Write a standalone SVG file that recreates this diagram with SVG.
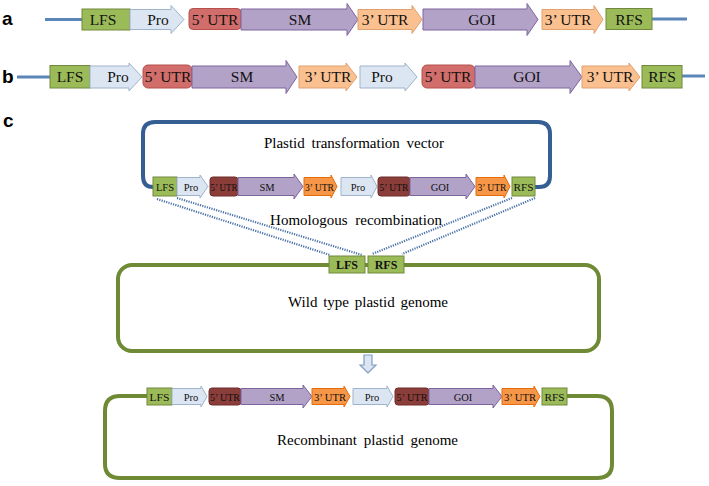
<svg xmlns="http://www.w3.org/2000/svg" width="709" height="486" viewBox="0 0 709 486">
<style>
.lbl{font-family:"Liberation Sans",Arial,sans-serif;font-weight:bold;font-size:19px;fill:#000}
.t{font-family:"Liberation Serif","Times New Roman",serif;fill:#111;text-anchor:middle}
.big{font-size:15.5px}
.sm{font-size:10.5px}
.cap{font-family:"Liberation Serif","Times New Roman",serif;font-size:15px;fill:#000;text-anchor:middle;word-spacing:3px}
.fs{fill:#9bbb59;stroke:#71893f;stroke-width:1}
.pro{fill:#dce6f2;stroke:#9fb3cc;stroke-width:1}
.u5{fill:#d16d6a;stroke:#b5504d;stroke-width:1}
.u5d{fill:#8b3d3a;stroke:#6e2d2b;stroke-width:1}
.sm1{fill:#b3a2c7;stroke:#7e649e;stroke-width:1}
.u3{fill:#fac08f;stroke:#e0a070;stroke-width:1}
.u3d{fill:#f79646;stroke:#e46c0a;stroke-width:1}
.bl{stroke:#5b87b8;stroke-width:3;fill:none}
.dot{stroke:#4a72a8;stroke-width:2.2;fill:none;stroke-dasharray:1.2 1.2}
</style>
<g id="labels">
<text class="lbl" x="2" y="25">a</text>
<text class="lbl" x="2" y="83">b</text>
<text class="lbl" x="3" y="127">c</text>
</g>
<g id="connectors">
<path class="bl" d="M45,19.5 H82 M652,19 H687"/>
<path class="bl" d="M17,77 H50 M682,76 H705"/>
<path d="M153,187 Q143,187 143,176 V134 Q143,122 155,122 H538 Q550,122 550,134 V176 Q550,187 539,187 H535" fill="none" stroke="#355f93" stroke-width="4"/>
<path class="dot" d="M157,199 L330,255 M177,198 L362,255 M512,198 L372,254 M535,198 L402,254"/>
<rect x="118" y="265" width="481" height="86" rx="14" fill="none" stroke="#6f8a35" stroke-width="4"/>
<path d="M147,396 H120 Q105,396 105,411 V464 Q105,478 120,478 H597 Q612,478 612,464 V411 Q612,396 597,396 H567" fill="none" stroke="#6f8a35" stroke-width="4"/>
<path d="M364,355 H372 V365 H376 L368,373 L360,365 H364 Z" fill="#dce6f2" stroke="#7f9cc4" stroke-width="1.2"/>
</g>
<g id="row-a">
<g id="a-lfs"><rect class="fs" x="82" y="9" width="48" height="21"/><text class="t big" x="103" y="25">LFS</text></g>
<g id="a-pro"><path class="pro" d="M130,9.5 H171 V5.5 L184,19.5 L171,33.5 V29.5 H130 Z"/><text class="t big" x="158" y="25">Pro</text></g>
<g id="a-5utr"><rect class="u5" x="189" y="8.5" width="52" height="21" rx="4"/><text class="t big" x="215" y="25">5’ UTR</text></g>
<g id="a-sm"><path class="sm1" d="M241,9 H347 V3.5 L358,19.5 L347,35.5 V30 H241 Z"/><text class="t big" x="300" y="25">SM</text></g>
<g id="a-3utr1"><path class="u3" d="M358,9.5 H412 V5.5 L422,19.5 L412,33.5 V29.5 H358 Z"/><text class="t big" x="385" y="25">3’ UTR</text></g>
<g id="a-goi"><path class="sm1" d="M423,9 H527 V3.5 L538,19.5 L527,35.5 V30 H423 Z"/><text class="t big" x="482" y="25">GOI</text></g>
<g id="a-3utr2"><path class="u3" d="M542,9.5 H594 V5.5 L603,19.5 L594,33.5 V29.5 H542 Z"/><text class="t big" x="568" y="25">3’ UTR</text></g>
<g id="a-rfs"><rect class="fs" x="606" y="8.5" width="46" height="21"/><text class="t big" x="629" y="25">RFS</text></g>
</g>
<g id="row-b">
<g id="b-lfs"><rect class="fs" x="50" y="65.5" width="40" height="22.5"/><text class="t big" x="70" y="82">LFS</text></g>
<g id="b-pro1"><path class="pro" d="M90,66 H129 V63 L142,77 L129,91 V88 H90 Z"/><text class="t big" x="118" y="82">Pro</text></g>
<g id="b-5utr1"><rect class="u5" x="143" y="65" width="49" height="23" rx="5"/><text class="t big" x="168" y="82">5’ UTR</text></g>
<g id="b-sm"><path class="sm1" d="M192,66 H286 V60.5 L297,77 L286,93.5 V88 H192 Z"/><text class="t big" x="242" y="82">SM</text></g>
<g id="b-3utr1"><path class="u3" d="M299,66 H346 V63 L357,77 L346,91 V88 H299 Z"/><text class="t big" x="328" y="82">3’ UTR</text></g>
<g id="b-pro2"><path class="pro" d="M360,66 H405 V63 L417,77 L405,91 V88 H360 Z"/><text class="t big" x="382" y="82">Pro</text></g>
<g id="b-5utr2"><rect class="u5" x="422" y="65" width="53" height="23" rx="5"/><text class="t big" x="448" y="82">5’ UTR</text></g>
<g id="b-goi"><path class="sm1" d="M475,66 H570 V60.5 L582,77 L570,93.5 V88 H475 Z"/><text class="t big" x="527" y="82">GOI</text></g>
<g id="b-3utr2"><path class="u3" d="M582,66 H629 V63 L640,77 L629,91 V88 H582 Z"/><text class="t big" x="610" y="82">3’ UTR</text></g>
<g id="b-rfs"><rect class="fs" x="642" y="65.5" width="40" height="22.5"/><text class="t big" x="662" y="82">RFS</text></g>
</g>
<g id="vector">
<text class="cap" x="354" y="148">Plastid transformation vector</text>
<g id="c-lfs"><rect class="fs" x="153" y="177" width="24" height="19"/><text class="t sm" x="165" y="190.5">LFS</text></g>
<g id="c-pro1"><path class="pro" d="M177,177.5 H200 V175 L208,186.5 L200,198 V195.5 H177 Z"/><text class="t sm" x="191" y="190.5">Pro</text></g>
<g id="c-5utr1"><rect class="u5d" x="210" y="177" width="28" height="19" rx="3"/><text class="t sm" x="224" y="190.5" textLength="27" lengthAdjust="spacingAndGlyphs">5’ UTR</text></g>
<g id="c-sm"><path class="sm1" d="M238,177.5 H294 V174 L303,186.5 L294,199 V195.5 H238 Z"/><text class="t sm" x="267" y="190.5">SM</text></g>
<g id="c-3utr1"><path class="u3d" d="M304,177.5 H331 V175 L337,186.5 L331,198 V195.5 H304 Z"/><text class="t sm" x="319.5" y="190.5" textLength="29" lengthAdjust="spacingAndGlyphs">3’ UTR</text></g>
<g id="c-pro2"><path class="pro" d="M341,177.5 H371 V175 L377,186.5 L371,198 V195.5 H341 Z"/><text class="t sm" x="358" y="190.5">Pro</text></g>
<g id="c-5utr2"><rect class="u5d" x="378" y="177" width="32" height="19" rx="3"/><text class="t sm" x="394" y="190.5" textLength="29" lengthAdjust="spacingAndGlyphs">5’ UTR</text></g>
<g id="c-goi"><path class="sm1" d="M410,177.5 H466 V174 L475,186.5 L466,199 V195.5 H410 Z"/><text class="t sm" x="440" y="190.5">GOI</text></g>
<g id="c-3utr2"><path class="u3d" d="M476,177.5 H504 V175 L510,186.5 L504,198 V195.5 H476 Z"/><text class="t sm" x="492" y="190.5" textLength="29" lengthAdjust="spacingAndGlyphs">3’ UTR</text></g>
<g id="c-rfs"><rect class="fs" x="512" y="177" width="23" height="19"/><text class="t sm" x="523.5" y="190.5" textLength="20" lengthAdjust="spacingAndGlyphs">RFS</text></g>
</g>
<g id="recombination">
<text class="cap" x="356" y="225" style="word-spacing:4px">Homologous recombination</text>
</g>
<g id="wild-genome">
<g id="g-lfs"><rect class="fs" x="329" y="256" width="36" height="17"/><text class="t" x="347" y="269" style="font-size:12px;font-weight:bold">LFS</text></g>
<g id="g-rfs"><rect class="fs" x="368" y="256" width="36" height="17"/><text class="t" x="386" y="269" style="font-size:12px;font-weight:bold">RFS</text></g>
<text class="cap" x="368" y="307" style="word-spacing:2px">Wild type plastid genome</text>
</g>
<g id="recombinant">
<g id="r-lfs"><rect class="fs" x="147" y="388" width="25" height="17"/><text class="t sm" x="159.5" y="400.5" textLength="20" lengthAdjust="spacingAndGlyphs">LFS</text></g>
<g id="r-pro1"><path class="pro" d="M172,388.5 H201 V386 L207,396.5 L201,407 V404.5 H172 Z"/><text class="t sm" x="191" y="400.5">Pro</text></g>
<g id="r-5utr1"><rect class="u5d" x="209" y="388" width="32" height="17" rx="3"/><text class="t sm" x="225" y="400.5" textLength="30" lengthAdjust="spacingAndGlyphs">5’ UTR</text></g>
<g id="r-sm"><path class="sm1" d="M241,388.5 H303 V385 L312,396.5 L303,408 V404.5 H241 Z"/><text class="t sm" x="277" y="400.5">SM</text></g>
<g id="r-3utr1"><path class="u3d" d="M312,388.5 H344 V386 L350,396.5 L344,407 V404.5 H312 Z"/><text class="t sm" x="330" y="400.5" textLength="32" lengthAdjust="spacingAndGlyphs">3’ UTR</text></g>
<g id="r-pro2"><path class="pro" d="M353,388.5 H387 V386 L393,396.5 L387,407 V404.5 H353 Z"/><text class="t sm" x="372" y="400.5">Pro</text></g>
<g id="r-5utr2"><rect class="u5d" x="395" y="388" width="34" height="17" rx="3"/><text class="t sm" x="412" y="400.5" textLength="31" lengthAdjust="spacingAndGlyphs">5’ UTR</text></g>
<g id="r-goi"><path class="sm1" d="M429,388.5 H493 V385 L502,396.5 L493,408 V404.5 H429 Z"/><text class="t sm" x="463" y="400.5">GOI</text></g>
<g id="r-3utr2"><path class="u3d" d="M502,388.5 H534 V386 L540,396.5 L534,407 V404.5 H502 Z"/><text class="t sm" x="520" y="400.5" textLength="32" lengthAdjust="spacingAndGlyphs">3’ UTR</text></g>
<g id="r-rfs"><rect class="fs" x="542" y="388" width="25" height="17"/><text class="t sm" x="554.5" y="400.5" textLength="20" lengthAdjust="spacingAndGlyphs">RFS</text></g>
<text class="cap" x="367.5" y="445">Recombinant plastid genome</text>
</g>
</svg>
